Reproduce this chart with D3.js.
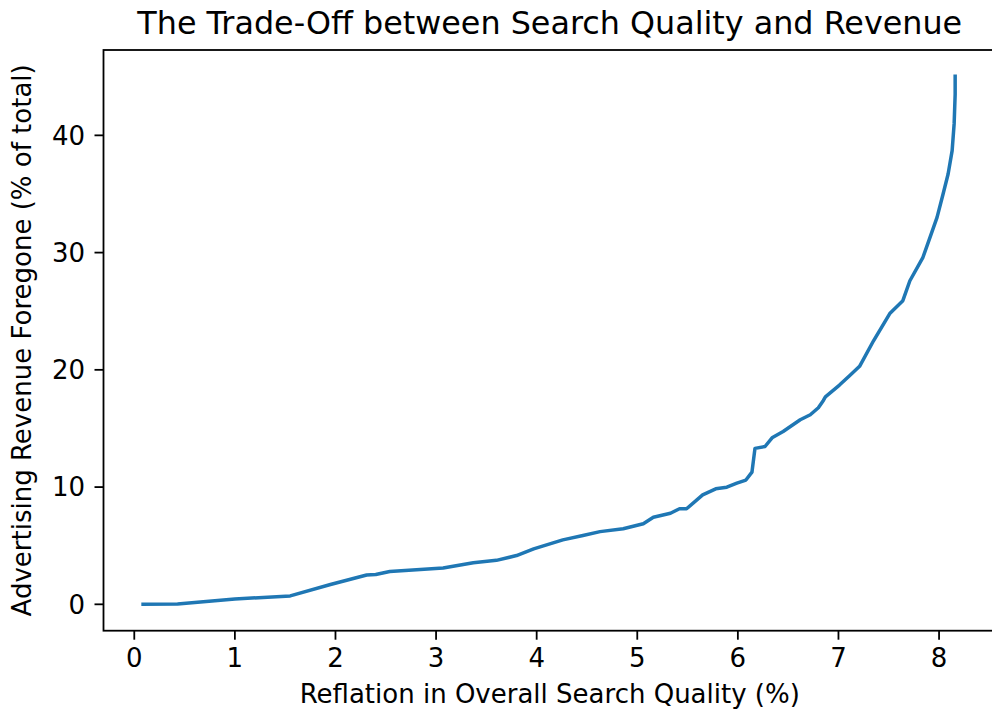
<!DOCTYPE html>
<html>
<head>
<meta charset="utf-8">
<script src="https://cdn.jsdelivr.net/npm/d3@7"></script>
<style>
  body { margin: 0; background: #fff; }
  text { font-family: "DejaVu Sans", sans-serif; fill: #000; }
</style>
</head>
<body>
<div id="chart"></div>
<script>
// quality gain (%) and revenue foregone (% of total)
var quality = [0.07, 0.43, 1.0, 1.55, 1.95, 2.31, 2.40, 2.54, 3.07, 3.37, 3.60, 3.80, 3.97, 4.26, 4.46,
  4.63, 4.86, 5.06, 5.16, 5.33, 5.42, 5.49, 5.65, 5.78, 5.89, 5.99, 6.08, 6.14, 6.17, 6.27, 6.34,
  6.45, 6.62, 6.72, 6.80, 6.85, 6.87, 7.01, 7.11, 7.21, 7.35, 7.51, 7.64, 7.71, 7.84, 7.91, 7.98,
  8.04, 8.09, 8.13, 8.15, 8.16, 8.16];
var revenue = [0, 0.02, 0.45, 0.72, 1.69, 2.5, 2.55, 2.8, 3.1, 3.55, 3.75, 4.16, 4.73, 5.5, 5.87,
  6.2, 6.44, 6.87, 7.43, 7.77, 8.15, 8.15, 9.34, 9.85, 9.99, 10.33, 10.6, 11.27, 13.3, 13.46, 14.2,
  14.74, 15.74, 16.17, 16.77, 17.39, 17.7, 18.7, 19.5, 20.3, 22.5, 24.8, 25.9, 27.6, 29.6, 31.3,
  33.0, 35.0, 36.7, 38.7, 41.0, 43.5, 45.2];
var xTicks = [0, 1, 2, 3, 4, 5, 6, 7, 8];
var yTicks = [0, 10, 20, 30, 40];

var data = quality.map(function(q, i) { return {q: q, r: revenue[i]}; });

var margin = {top: 50, left: 103.5},
    width = 892.5,
    height = 580.7;

var svg = d3.select("#chart")
  .append("svg")
  .attr("width", 992)
  .attr("height", 713);

var g = svg.append("g")
  .attr("transform", "translate(" + margin.left + "," + margin.top + ")");

var x = d3.scaleLinear().domain([-0.306, 8.566]).range([0, width]);
var y = d3.scaleLinear().domain([-2.25, 47.28]).range([height, 0]);

var tickLen = 9, fs = 26;

// x axis
var xa = g.append("g").attr("transform", "translate(0," + height + ")");
xa.selectAll("line").data(xTicks).enter().append("line")
  .attr("x1", function(d) { return x(d); }).attr("x2", function(d) { return x(d); })
  .attr("y1", 0).attr("y2", tickLen)
  .attr("stroke", "#000").attr("stroke-width", 1.8);
xa.selectAll("text").data(xTicks).enter().append("text")
  .attr("x", function(d) { return x(d); })
  .attr("y", 36.5)
  .attr("text-anchor", "middle")
  .style("font-size", fs + "px")
  .text(function(d) { return d; });

// y axis
var ya = g.append("g");
ya.selectAll("line").data(yTicks).enter().append("line")
  .attr("x1", -tickLen).attr("x2", 0)
  .attr("y1", function(d) { return y(d); }).attr("y2", function(d) { return y(d); })
  .attr("stroke", "#000").attr("stroke-width", 1.8);
ya.selectAll("text").data(yTicks).enter().append("text")
  .attr("x", -tickLen - 9.5)
  .attr("y", function(d) { return y(d) + 9.3; })
  .attr("text-anchor", "end")
  .style("font-size", fs + "px")
  .text(function(d) { return d; });

// curve
g.append("path")
  .datum(data)
  .attr("fill", "none")
  .attr("stroke", "#1f77b4")
  .attr("stroke-width", 3.5)
  .attr("stroke-linejoin", "round")
  .attr("stroke-linecap", "butt")
  .attr("d", d3.line()
    .x(function(d) { return x(d.q); })
    .y(function(d) { return y(d.r); }));

// frame
g.append("rect")
  .attr("x", 0).attr("y", 0)
  .attr("width", width).attr("height", height)
  .attr("fill", "none")
  .attr("stroke", "#000")
  .attr("stroke-width", 1.8);

// labels
svg.append("text")
  .attr("x", margin.left + width / 2)
  .attr("y", 34)
  .attr("text-anchor", "middle")
  .style("font-size", "31.8px")
  .text("The Trade-Off between Search Quality and Revenue");

svg.append("text")
  .attr("x", margin.left + width / 2)
  .attr("y", 703)
  .attr("text-anchor", "middle")
  .style("font-size", fs + "px")
  .text("Reflation in Overall Search Quality (%)");

svg.append("text")
  .attr("transform", "translate(31," + (margin.top + height / 2) + ") rotate(-90)")
  .attr("text-anchor", "middle")
  .style("font-size", fs + "px")
  .text("Advertising Revenue Foregone (% of total)");
</script>
</body>
</html>
